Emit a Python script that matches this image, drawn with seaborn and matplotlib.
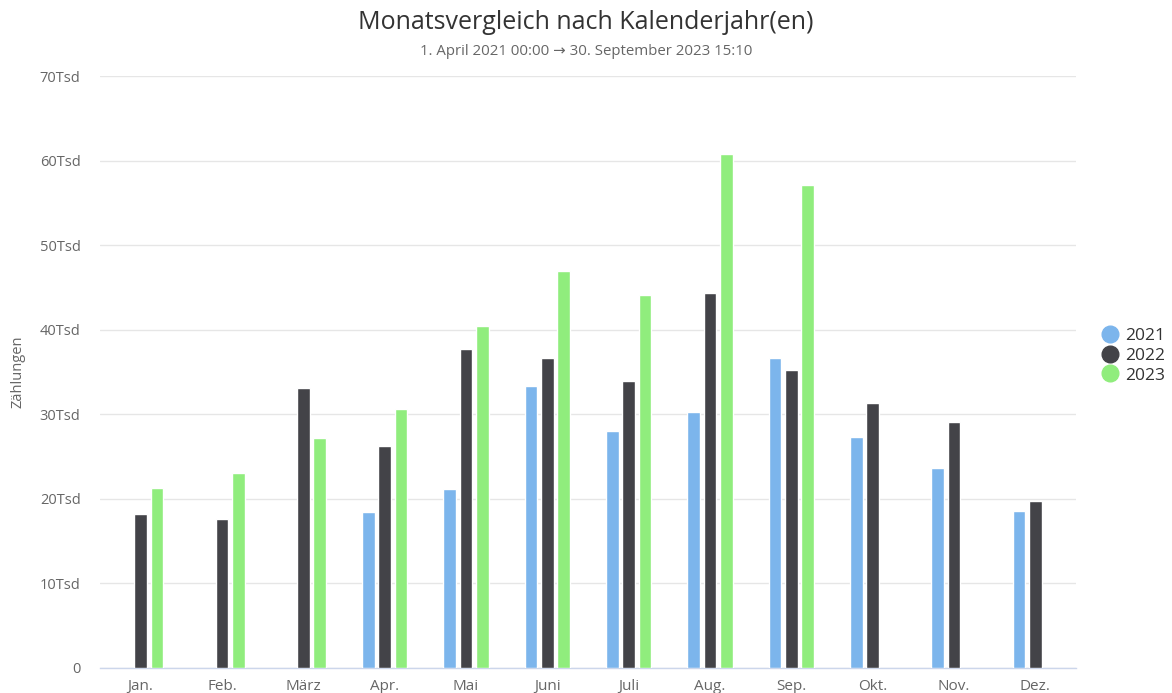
import numpy as np
import pandas as pd
import matplotlib
matplotlib.use("Agg")
import matplotlib.pyplot as plt
import seaborn as sns
from matplotlib.lines import Line2D
from matplotlib.ticker import FuncFormatter, FixedLocator

months = ["Jan.", "Feb.", "März", "Apr.", "Mai", "Juni", "Juli", "Aug.", "Sep.", "Okt.", "Nov.", "Dez."]
years = ["2021", "2022", "2023"]
# counts per month (None = no data)
y2021 = [None, None, None, 18400, 21200, 33300, 28000, 30300, 36700, 27300, 23700, 18600]
y2022 = [18200, 17600, 33100, 26200, 37700, 36700, 33900, 44400, 35200, 31300, 29100, 19800]
y2023 = [21300, 23000, 27200, 30600, 40400, 47000, 44100, 60800, 57100, None, None, None]

colors = ["#7cb5ec", "#434348", "#90ed7d"]

rows = []
for year, vals in zip(years, [y2021, y2022, y2023]):
    for m, v in zip(months, vals):
        if v is not None:
            rows.append({"Monat": m, "Jahr": year, "Zählungen": v})
df = pd.DataFrame(rows)

sns.set_style("white")
plt.rcParams["font.family"] = ["Open Sans", "DejaVu Sans"]

fig = plt.figure(figsize=(11.72, 6.93), dpi=100)
ax = fig.add_axes([0.0853, 0.0361, 0.918 - 0.0853, 0.8903 - 0.0361])

sns.barplot(data=df, x="Monat", y="Zählungen", hue="Jahr", order=months, hue_order=years,
            palette=colors, width=0.6, gap=0.22, edgecolor="white", linewidth=1,
            saturation=1, legend=False, ax=ax, zorder=3)

ax.set_xlim(-0.5, 11.5)
ax.set_ylim(0, 70000)
ax.set_yticks(np.arange(0, 70001, 10000))
ax.yaxis.set_major_formatter(FuncFormatter(lambda v, p: "0" if v == 0 else f"{v/1000:.0f}Tsd"))
ax.grid(axis="y", color="#e6e6e6", linewidth=1, zorder=0)
ax.set_axisbelow(True)

for s in ["top", "right", "left"]:
    ax.spines[s].set_visible(False)
ax.spines["bottom"].set_color("#ccd6eb")
ax.spines["bottom"].set_linewidth(1)

ax.xaxis.set_minor_locator(FixedLocator(np.arange(-0.5, 12, 1)))
ax.tick_params(axis="x", which="minor", length=7.5, color="#ccd6eb", width=1)
ax.tick_params(axis="x", which="major", length=0, pad=8, labelsize=11, labelcolor="#666666")
ax.tick_params(axis="y", length=0, pad=14, labelsize=10.5, labelcolor="#666666")

ax.set_xlabel("")
ax.set_ylabel("")
fig.text(0.0154, 0.463, "Zählungen", rotation=90, ha="center", va="center",
         fontsize=10.5, color="#666666")

fig.text(0.5, 0.968, "Monatsvergleich nach Kalenderjahr(en)", ha="center", va="center",
         fontsize=18, color="#333333")
fig.text(0.5, 0.926, "1. April 2021 00:00 \u2192 30. September 2023 15:10", ha="center", va="center",
         fontsize=10.8, color="#666666")

handles = [Line2D([0], [0], marker="o", linestyle="", markersize=12,
                  markerfacecolor=c, markeredgecolor=c) for c in colors]
fig.legend(handles, years, loc="center left", bbox_to_anchor=(0.934, 0.487), frameon=False,
           fontsize=12.5, labelcolor="#333333", handletextpad=0.35, labelspacing=0.22,
           handlelength=1.0, borderaxespad=0)

fig.savefig("out.png", dpi=100)
